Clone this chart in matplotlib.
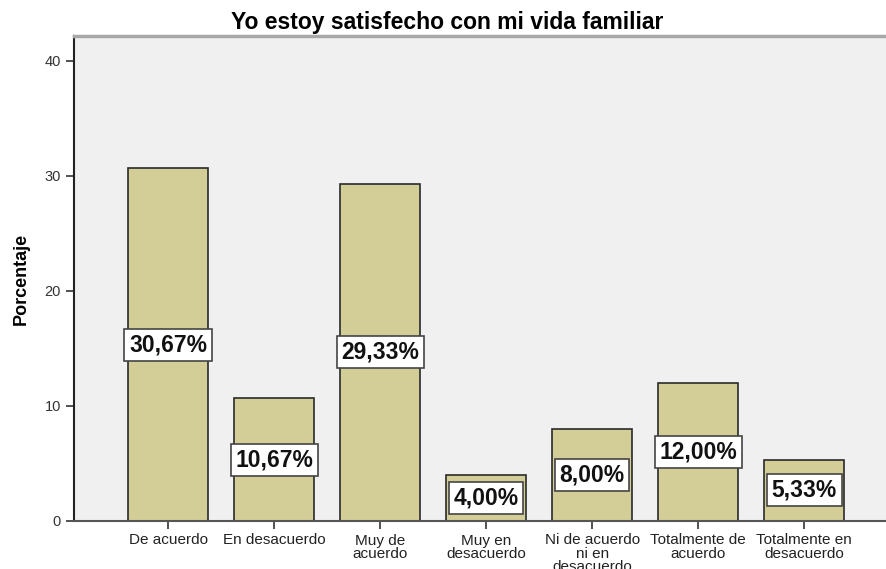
import matplotlib
matplotlib.use('Agg')
import matplotlib.pyplot as plt
import numpy as np

# data
categories = ['De acuerdo', 'En desacuerdo', 'Muy de\nacuerdo', 'Muy en\ndesacuerdo',
              'Ni de acuerdo\nni en\ndesacuerdo', 'Totalmente de\nacuerdo', 'Totalmente en\ndesacuerdo']
percentages = [30.67, 10.67, 29.33, 4.00, 8.00, 12.00, 5.33]
y_ticks = [0, 10, 20, 30, 40]

plt.rcParams['font.family'] = ['Liberation Sans', 'DejaVu Sans']

fig = plt.figure(figsize=(8.86, 5.69), dpi=100)
ax = fig.add_axes([74 / 886, 48 / 569, 1 - 74 / 886, 485 / 569])
ax.set_facecolor('#F0F0F0')

x = np.arange(len(categories))
ax.bar(x, percentages, width=0.755, color='#D3CE97', edgecolor='#2A2A2A', linewidth=1.2, zorder=2)

for xi, val in zip(x, percentages):
    label = f'{val:.2f}'.replace('.', ',') + '%'
    ax.text(xi, val / 2, label, ha='center', va='center', fontsize=16.5, fontweight='bold',
            color='#111111', zorder=3,
            bbox=dict(boxstyle='square,pad=0.2', facecolor='white', edgecolor='#444444', linewidth=1.2))

ax.set_xlim(-0.887, 6.77)
ax.set_ylim(0, 42.17)
ax.set_yticks(y_ticks)
ax.set_xticks(x)
ax.set_xticklabels(categories, fontsize=11, color='#222222', linespacing=0.95)
ax.tick_params(axis='y', labelsize=10.5, labelcolor='#333333', length=6, width=1.2, color='#333333')
ax.tick_params(axis='x', length=6, width=1.2, color='#333333', pad=3)

ax.set_ylabel('Porcentaje', fontsize=13, fontweight='bold')
ax.yaxis.set_label_coords(-0.054, 0.5)
ax.set_title('Yo estoy satisfecho con mi vida familiar', fontsize=16.5, fontweight='bold', pad=5,
             x=(447 - 74) / (886 - 74))

ax.spines['left'].set_color('#222222')
ax.spines['left'].set_linewidth(1.5)
ax.spines['bottom'].set_color('#555555')
ax.spines['bottom'].set_linewidth(1.5)
ax.spines['top'].set_color('#A8A8A8')
ax.spines['top'].set_linewidth(2.5)
ax.spines['right'].set_visible(False)

fig.savefig('out.png', dpi=100)
